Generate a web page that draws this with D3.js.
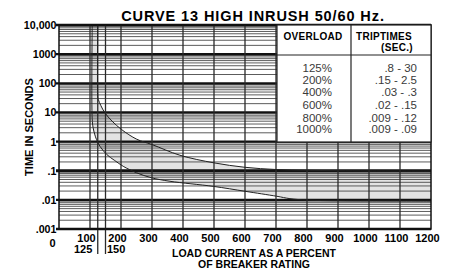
<!DOCTYPE html>
<html>
<head>
<meta charset="utf-8">
<script src="https://cdn.jsdelivr.net/npm/d3@7"></script>
<style>
  body { margin: 0; background: #fff; }
  text { font-family: "Liberation Sans", Arial, Helvetica, sans-serif; }
</style>
</head>
<body>
<div id="my_dataviz"></div>
<script>
// trip curve data (percent of rating, seconds)
const upperCurve = [
  [125, 10000], [125, 40], [127, 27.6], [135, 17.2], [148, 9.7], [171, 5.05],
  [202, 2.58], [251, 1.2], [300, 0.79], [390, 0.34], [500, 0.186],
  [600, 0.131], [700, 0.11], [800, 0.103], [900, 0.1], [1000, 0.098], [1200, 0.097]
];
const lowerCurve = [
  [107, 10000], [107, 6], [110, 3], [115, 1.8], [121, 1.17], [132, 0.69],
  [154, 0.36], [180, 0.223], [207, 0.142], [250, 0.085], [299, 0.057],
  [358, 0.0434], [498, 0.029], [600, 0.0197], [702, 0.0133], [745, 0.011],
  [800, 0.0098], [900, 0.0093], [1000, 0.0092], [1200, 0.0091]
];

// axes
const yTicks = [10000, 1000, 100, 10, 1, 0.1, 0.01, 0.001];
const yTickLabels = ["10,000", "1000", "100", "10", "1", ".1", ".01", ".001"];
const xTicks = [100, 200, 300, 400, 500, 600, 700, 800, 900, 1000, 1100, 1200];
const xGrid = [100, 125, 150, 200, 300, 400, 500, 600, 700, 800, 900, 1000, 1100];

// table
const overloads = ["125%", "200%", "400%", "600%", "800%", "1000%"];
const tripTimes = [".8 - 30", ".15 - 2.5", ".03 - .3", ".02 - .15", ".009 - .12", ".009 - .09"];

const width = 450, height = 271;
const margin = {top: 25, right: 19, bottom: 42, left: 59};

const svg = d3.select("#my_dataviz")
  .append("svg")
    .attr("width", width)
    .attr("height", height);

const x = d3.scaleLinear()
  .domain([0, 1200])
  .range([margin.left, width - margin.right]);

const y = d3.scaleLog()
  .domain([0.001, 10000])
  .range([height - margin.bottom, margin.top]);

const x0 = x.range()[0], x1 = x.range()[1];
const yTop = y.range()[1], yBot = y.range()[0];

const lineGen = d3.line()
  .x(d => x(d[0]))
  .y(d => y(d[1]))
  .curve(d3.curveCatmullRom.alpha(0.5));

// shaded band between the curves
svg.append("path")
  .attr("d", lineGen(upperCurve) + lineGen(lowerCurve.slice().reverse()).replace(/^M/, "L") + "Z")
  .attr("fill", "#e3e3e3")
  .attr("stroke", "none");

// minor horizontal grid
const minor = [];
for (let e = -3; e < 4; e++) {
  for (let m = 2; m <= 9; m++) minor.push(m * Math.pow(10, e));
}
svg.append("g")
  .selectAll("line")
  .data(minor)
  .join("line")
    .attr("x1", x0).attr("x2", x1)
    .attr("y1", d => y(d)).attr("y2", d => y(d))
    .attr("stroke", "#4a4a4a")
    .attr("stroke-width", 0.9);

// decade lines
svg.append("g")
  .selectAll("line")
  .data(yTicks)
  .join("line")
    .attr("x1", x0 - 3).attr("x2", x1)
    .attr("y1", d => y(d)).attr("y2", d => y(d))
    .attr("stroke", "#111")
    .attr("stroke-width", d => d === 0.1 ? 3 : 2.3);

// vertical grid
svg.append("g")
  .selectAll("line")
  .data(xGrid)
  .join("line")
    .attr("x1", d => x(d)).attr("x2", d => x(d))
    .attr("y1", yTop)
    .attr("y2", d => (d === 125 || d === 150) ? 254 : yBot)
    .attr("stroke", "#2a2a2a")
    .attr("stroke-width", 1.3);

// curves
[upperCurve, lowerCurve].forEach(c => {
  svg.append("path")
    .datum(c)
    .attr("fill", "none")
    .attr("stroke", "#222")
    .attr("stroke-width", 1)
    .attr("d", lineGen);
});

// frame
svg.append("rect")
  .attr("x", x0).attr("y", yTop)
  .attr("width", x1 - x0).attr("height", yBot - yTop)
  .attr("fill", "none")
  .attr("stroke", "#111")
  .attr("stroke-width", 1.5);

// table
const tx0 = 277, tx1 = x1, tMid = 351, tHead = 55, tBot = 142;
svg.append("rect")
  .attr("x", tx0).attr("y", yTop)
  .attr("width", tx1 - tx0).attr("height", tBot - yTop)
  .attr("fill", "#fff")
  .attr("stroke", "#222")
  .attr("stroke-width", 1.2);
svg.append("line")
  .attr("x1", tMid).attr("x2", tMid).attr("y1", yTop).attr("y2", tBot)
  .attr("stroke", "#222").attr("stroke-width", 1.2);
svg.append("line")
  .attr("x1", tx0).attr("x2", tx1).attr("y1", tHead).attr("y2", tHead)
  .attr("stroke", "#222").attr("stroke-width", 1.2);

const head = (tx, ty, s) => svg.append("text")
  .attr("x", tx).attr("y", ty)
  .attr("text-anchor", "middle")
  .style("font-size", "10px").style("font-weight", "bold")
  .style("letter-spacing", "0.3px")
  .text(s);
head(313, 40, "OVERLOAD");
head(384, 39.5, "TRIPTIMES");
head(397, 51, "(SEC.)");

const rowY = [71.7, 83.5, 95.8, 108.8, 121.5, 132.8];
svg.append("g")
  .selectAll("text")
  .data(overloads)
  .join("text")
    .attr("x", 332).attr("y", (d, i) => rowY[i])
    .attr("text-anchor", "end")
    .attr("fill", "#3a3a3a")
    .style("font-size", "11.5px")
    .text(d => d);
svg.append("g")
  .selectAll("text")
  .data(tripTimes)
  .join("text")
    .attr("x", 417).attr("y", (d, i) => rowY[i])
    .attr("text-anchor", "end")
    .attr("fill", "#3a3a3a")
    .style("font-size", "11.5px")
    .text(d => d);

// y tick labels
svg.append("g")
  .selectAll("text")
  .data(yTicks)
  .join("text")
    .attr("x", 56.5)
    .attr("y", d => y(d) + 4)
    .attr("text-anchor", "end")
    .style("font-size", "10.7px").style("font-weight", "bold")
    .text((d, i) => yTickLabels[i]);

// x tick labels
svg.append("g")
  .selectAll("text")
  .data(xTicks)
  .join("text")
    .attr("x", d => x(d) - 3.5)
    .attr("y", 241.7)
    .attr("text-anchor", "middle")
    .style("font-size", "11px").style("font-weight", "bold")
    .text(d => d);

const small = (tx, ty, anchor, s) => svg.append("text")
  .attr("x", tx).attr("y", ty)
  .attr("text-anchor", anchor)
  .style("font-size", "11px").style("font-weight", "bold")
  .text(s);
small(52.5, 247.3, "middle", "0");
small(x(125) - 5.5, 252.7, "end", "125");
small(x(150) + 1.5, 252.7, "start", "150");

// axis titles
svg.append("text")
  .attr("x", 254).attr("y", 257)
  .attr("text-anchor", "middle")
  .style("font-size", "10.5px").style("font-weight", "bold")
  .text("LOAD CURRENT AS A PERCENT");
svg.append("text")
  .attr("x", 254).attr("y", 267.7)
  .attr("text-anchor", "middle")
  .style("font-size", "10.5px").style("font-weight", "bold")
  .text("OF BREAKER RATING");

svg.append("text")
  .attr("transform", `translate(33, ${(yTop + yBot) / 2}) rotate(-90)`)
  .attr("text-anchor", "middle")
  .style("font-size", "11px").style("font-weight", "bold")
  .text("TIME IN SECONDS");

// title
svg.append("text")
  .attr("x", 253).attr("y", 20.7)
  .attr("text-anchor", "middle")
  .style("font-size", "14.5px").style("font-weight", "bold")
  .style("letter-spacing", "0.9px")
  .text("CURVE 13 HIGH INRUSH 50/60 Hz.");
</script>
</body>
</html>
